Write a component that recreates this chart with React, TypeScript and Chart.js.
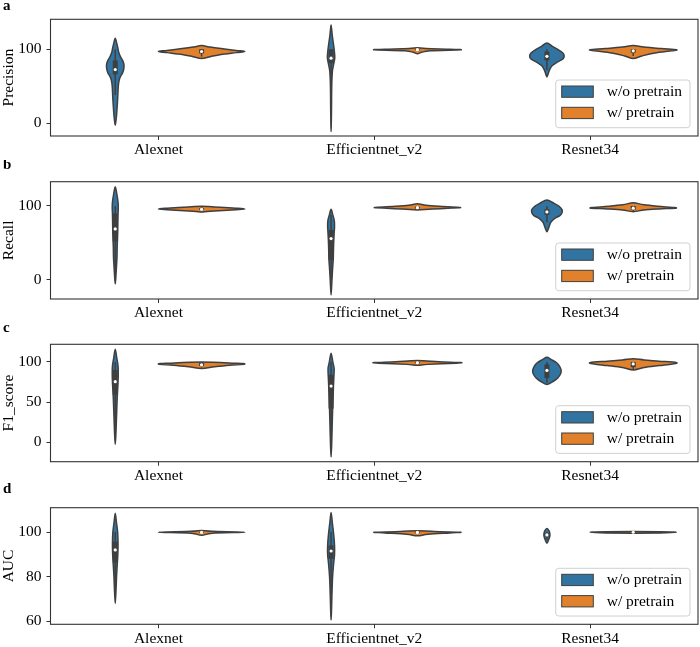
import React, { useEffect, useRef } from 'react';
import { Chart, registerables } from 'chart.js';

Chart.register(...registerables);

const FONT = "'Liberation Serif', 'Times New Roman', serif";

const categories = ['Alexnet', 'Efficientnet_v2', 'Resnet34'];
const seriesLabels = ['w/o pretrain', 'w/ pretrain'];
const seriesColors = ['#3274a1', '#e1812c'];

// Violin profiles: [value, relative density (1 = full half width)], one per category
// Box stats: [whiskerLow, q1, median, q3, whiskerHigh], one per category

// ---- Precision ----
const precisionTicks = [0, 100];
const precisionRange = [-17.6, 140.7];
const precisionWoViolins = [
  [[-3, 0], [5, 0.02], [14, 0.035], [32, 0.055], [50, 0.07], [58, 0.09], [63, 0.12], [68, 0.17], [74, 0.2], [80, 0.2], [85, 0.17], [90, 0.12], [96, 0.08], [102, 0.06], [108, 0.035], [115, 0]],
  [[-11.7, 0], [0, 0.005], [20, 0.01], [50, 0.015], [70, 0.03], [80, 0.06], [88, 0.085], [95, 0.08], [105, 0.06], [120, 0.025], [133, 0]],
  [[62.6, 0], [66, 0.025], [72, 0.06], [78, 0.125], [83, 0.25], [87, 0.37], [91, 0.4], [95, 0.37], [100, 0.25], [104, 0.125], [108.5, 0]],
];
const precisionWViolins = [
  [[87.4, 0], [90, 0.2], [93, 0.45], [95.5, 0.8], [97, 1.0], [98.5, 0.8], [101, 0.45], [103, 0.2], [105, 0]],
  [[94, 0], [96, 0.1], [98, 0.3], [99.3, 1.0], [100, 0.75], [101, 0.2], [102, 0]],
  [[87.5, 0], [91, 0.2], [95, 0.5], [98, 0.9], [99.5, 1.0], [101, 0.65], [103, 0.25], [105, 0]],
];
const precisionWoBox = [[38, 66, 72.5, 85, 100], [52, 81, 88, 100, 100], [72, 85, 90.5, 97, 100]];
const precisionWBox = [[90, 94.5, 97, 100, 100], [97.5, 98.8, 99.5, 100, 100], [91, 95.5, 98, 100, 100]];

// ---- Recall ----
const recallTicks = [0, 100];
const recallRange = [-25.7, 132.8];
const recallWoViolins = [
  [[-5.4, 0], [5, 0.015], [15, 0.025], [30, 0.04], [45, 0.045], [60, 0.055], [75, 0.06], [90, 0.065], [97, 0.07], [105, 0.065], [115, 0.04], [126, 0]],
  [[-20.3, 0], [0, 0.02], [15, 0.035], [28, 0.05], [40, 0.055], [50, 0.06], [62, 0.07], [72, 0.08], [80, 0.075], [88, 0.04], [95.5, 0]],
  [[65.3, 0], [72, 0.05], [78, 0.09], [83, 0.175], [87, 0.3], [91, 0.35], [95, 0.35], [100, 0.275], [104, 0.15], [108, 0]],
];
const recallWViolins = [
  [[91.7, 0], [93, 0.2], [95, 0.8], [96, 1.0], [97, 0.8], [98.5, 0.3], [99.7, 0]],
  [[94.5, 0], [96, 0.35], [97.7, 1.0], [99.5, 0.5], [101, 0.2], [103, 0]],
  [[92.3, 0], [94.5, 0.25], [96, 0.6], [97.3, 1.0], [99, 0.7], [101.5, 0.25], [104.5, 0]],
];
const recallWoBox = [[5, 52, 69, 90, 100], [0, 27, 56, 67.6, 88], [78, 88, 92, 95.6, 100]];
const recallWBox = [[92.5, 94.5, 95.5, 97, 98.5], [95, 96.5, 97.7, 99, 100], [93, 95, 97, 100, 100]];

// ---- F1_score ----
const f1Ticks = [0, 50, 100];
const f1Range = [-24.2, 122];
const f1WoViolins = [
  [[-2.5, 0], [10, 0.015], [25, 0.025], [40, 0.035], [55, 0.045], [65, 0.055], [75, 0.065], [85, 0.07], [95, 0.065], [105, 0.035], [115.8, 0]],
  [[-18.3, 0], [0, 0.015], [20, 0.025], [40, 0.035], [55, 0.045], [70, 0.055], [82, 0.065], [92, 0.07], [100, 0.04], [110.9, 0]],
  [[72, 0], [76, 0.15], [80, 0.25], [85, 0.315], [89, 0.33], [94, 0.3], [99, 0.225], [103, 0.1], [105.8, 0]],
];
const f1WViolins = [
  [[92, 0], [94, 0.3], [96, 0.65], [97.5, 1.0], [98.5, 0.75], [100, 0]],
  [[95.8, 0], [97, 0.25], [98.5, 0.9], [99.2, 1.0], [100.3, 0.5], [101.9, 0]],
  [[90, 0], [93, 0.25], [95.5, 0.6], [97.5, 0.9], [99.2, 1.0], [101, 0.6], [102.5, 0.25], [104, 0]],
];
const f1WoBox = [[13, 59, 75.5, 90, 100], [0, 42, 70, 84, 100], [74, 80, 89.5, 97, 100]];
const f1WBox = [[93, 95, 96.5, 99, 99.5], [97.5, 98.5, 99, 100, 100], [91, 93.5, 97.5, 100, 100]];

// ---- AUC ----
const aucTicks = [60, 80, 100];
const aucRange = [58.65, 110.9];
const aucWoViolins = [
  [[68, 0], [75, 0.02], [80, 0.03], [85, 0.045], [90, 0.06], [95, 0.065], [100, 0.055], [104, 0.03], [108.4, 0]],
  [[60.6, 0], [65, 0.01], [72, 0.02], [80, 0.035], [86, 0.06], [90, 0.08], [94, 0.08], [99, 0.06], [104, 0.03], [108.8, 0]],
  [[95, 0], [96.5, 0.04], [98, 0.065], [99, 0.07], [100.5, 0.05], [101.6, 0]],
];
const aucWViolins = [
  [[98.5, 0], [99.5, 0.25], [99.9, 1.0], [100.3, 0.25], [100.7, 0]],
  [[98.3, 0], [99, 0.25], [99.6, 0.75], [99.9, 1.0], [100.2, 0.4], [100.6, 0]],
  [[99.5, 0], [99.9, 1.0], [100.2, 0]],
];
const aucWoBox = [[72, 86.3, 92, 95.7, 100], [72, 88, 91.5, 94, 100], [96.5, 98, 98.7, 99.5, 100]];
const aucWBox = [[99.2, 99.6, 99.8, 100, 100], [99.2, 99.5, 99.8, 100, 100], [99.7, 99.8, 99.9, 100, 100]];

type Panel = {
  letter: string;
  letterY: number;
  title: string;
  ticks: number[];
  range: number[];
  violins: number[][][][];
  boxes: number[][][];
  height: number;
  areaTop: number;
  areaBottom: number;
};

const panels: Panel[] = [
  { letter: 'a', letterY: 9.5, title: 'Precision', ticks: precisionTicks, range: precisionRange, violins: [precisionWoViolins, precisionWViolins], boxes: [precisionWoBox, precisionWBox], height: 160, areaTop: 19.3, areaBottom: 136 },
  { letter: 'b', letterY: 8.6, title: 'Recall', ticks: recallTicks, range: recallRange, violins: [recallWoViolins, recallWViolins], boxes: [recallWoBox, recallWBox], height: 160, areaTop: 21.7, areaBottom: 139 },
  { letter: 'c', letterY: 11.7, title: 'F1_score', ticks: f1Ticks, range: f1Range, violins: [f1WoViolins, f1WViolins], boxes: [f1WoBox, f1WBox], height: 163, areaTop: 24.3, areaBottom: 141.7 },
  { letter: 'd', letterY: 10.3, title: 'AUC', ticks: aucTicks, range: aucRange, violins: [aucWoViolins, aucWViolins], boxes: [aucWoBox, aucWBox], height: 164, areaTop: 24.7, areaBottom: 141.3 },
];

const HALF = 0.2; // half width of a violin in category units
const DODGE = 0.2;
const EDGE = '#3f3f3f';

function drawViolin(ctx: CanvasRenderingContext2D, xs: any, ys: any, center: number, profile: number[][], fill: string) {
  const pts: number[][] = [];
  for (let i = 0; i < profile.length; i++) {
    const [v, d] = profile[i];
    pts.push([xs.getPixelForValue(center + d * HALF), ys.getPixelForValue(v)]);
  }
  for (let i = profile.length - 2; i >= 1; i--) {
    const [v, d] = profile[i];
    pts.push([xs.getPixelForValue(center - d * HALF), ys.getPixelForValue(v)]);
  }
  const m = pts.length;
  ctx.beginPath();
  ctx.moveTo(pts[0][0], pts[0][1]);
  for (let k = 0; k < m; k++) {
    const p0 = pts[(k - 1 + m) % m];
    const p1 = pts[k];
    const p2 = pts[(k + 1) % m];
    const p3 = pts[(k + 2) % m];
    const c1x = p1[0] + (p2[0] - p0[0]) / 6;
    const c1y = p1[1] + (p2[1] - p0[1]) / 6;
    const c2x = p2[0] - (p3[0] - p1[0]) / 6;
    const c2y = p2[1] - (p3[1] - p1[1]) / 6;
    ctx.bezierCurveTo(c1x, c1y, c2x, c2y, p2[0], p2[1]);
  }
  ctx.closePath();
  ctx.fillStyle = fill;
  ctx.fill();
  ctx.lineWidth = 1.5;
  ctx.strokeStyle = EDGE;
  ctx.lineJoin = 'round';
  ctx.stroke();
}

function drawBox(ctx: CanvasRenderingContext2D, xs: any, ys: any, center: number, box: number[]) {
  const [lo, q1, med, q3, hi] = box;
  const cx = xs.getPixelForValue(center);
  ctx.strokeStyle = EDGE;
  ctx.lineCap = 'butt';
  ctx.lineWidth = 1.5;
  ctx.beginPath();
  ctx.moveTo(cx, ys.getPixelForValue(lo));
  ctx.lineTo(cx, ys.getPixelForValue(hi));
  ctx.stroke();
  ctx.lineWidth = 5;
  ctx.beginPath();
  ctx.moveTo(cx, ys.getPixelForValue(q1));
  ctx.lineTo(cx, ys.getPixelForValue(q3));
  ctx.stroke();
  ctx.beginPath();
  ctx.arc(cx, ys.getPixelForValue(med), 1.6, 0, Math.PI * 2);
  ctx.fillStyle = '#ffffff';
  ctx.fill();
}

function makePlugin(panel: Panel) {
  return {
    id: 'violinPanel',
    afterDatasetsDraw(chart: any) {
      const ctx: CanvasRenderingContext2D = chart.ctx;
      const xs = chart.scales.x;
      const ys = chart.scales.y;
      ctx.save();
      for (let ci = 0; ci < categories.length; ci++) {
        for (let si = 0; si < seriesLabels.length; si++) {
          const center = ci + (si === 0 ? -DODGE : DODGE);
          drawViolin(ctx, xs, ys, center, panel.violins[si][ci], seriesColors[si]);
          drawBox(ctx, xs, ys, center, panel.boxes[si][ci]);
        }
      }
      ctx.restore();
    },
    afterDraw(chart: any) {
      const ctx: CanvasRenderingContext2D = chart.ctx;
      const a = chart.chartArea;
      ctx.save();
      // frame
      ctx.strokeStyle = '#333333';
      ctx.lineWidth = 1.1;
      ctx.strokeRect(a.left, a.top, a.right - a.left, a.bottom - a.top);
      // legend
      const lw = 134.3;
      const lh = 47.7;
      const lx = a.right - 8 - lw;
      const ly = a.bottom - 8.3 - lh;
      ctx.beginPath();
      ctx.roundRect(lx, ly, lw, lh, 3);
      ctx.fillStyle = 'rgba(255,255,255,0.8)';
      ctx.fill();
      ctx.strokeStyle = '#d0d0d0';
      ctx.lineWidth = 1;
      ctx.stroke();
      ctx.font = `15.5px ${FONT}`;
      ctx.textBaseline = 'middle';
      ctx.textAlign = 'left';
      chart.data.datasets.forEach((ds: any, i: number) => {
        const py = ly + 6 + i * 21.3;
        ctx.fillStyle = ds.backgroundColor;
        ctx.fillRect(lx + 6, py, 31.6, 11.3);
        ctx.strokeStyle = EDGE;
        ctx.lineWidth = 1;
        ctx.strokeRect(lx + 6, py, 31.6, 11.3);
        ctx.fillStyle = '#000000';
        ctx.fillText(ds.label, lx + 51, py + 6);
      });
      // panel letter
      ctx.font = `bold 15px ${FONT}`;
      ctx.textBaseline = 'alphabetic';
      ctx.fillStyle = '#000000';
      ctx.fillText(panel.letter, 3, panel.letterY);
      ctx.restore();
    },
  };
}

function PanelChart({ panel }: { panel: Panel }) {
  const ref = useRef<HTMLCanvasElement | null>(null);
  useEffect(() => {
    if (!ref.current) return;
    const chart = new Chart(ref.current, {
      type: 'line',
      data: {
        labels: categories,
        datasets: seriesLabels.map((label, si) => ({
          label,
          data: panel.boxes[si].map((b) => b[2]),
          backgroundColor: seriesColors[si],
          borderColor: seriesColors[si],
          showLine: false,
          pointRadius: 0,
          pointHoverRadius: 0,
        })),
      },
      options: {
        responsive: false,
        animation: false,
        devicePixelRatio: 1,
        events: [],
        layout: { padding: { top: panel.areaTop, right: 2, left: 0, bottom: 0 } },
        plugins: { legend: { display: false }, tooltip: { enabled: false } },
        scales: {
          x: {
            type: 'category',
            offset: true,
            grid: { display: true, offset: false, drawOnChartArea: false, drawTicks: true, tickLength: 4, color: '#333333', lineWidth: 1 },
            border: { display: false },
            ticks: { font: { family: FONT, size: 15.5 }, color: '#000000', padding: 1, maxRotation: 0, autoSkip: false },
            afterFit: (s: any) => { s.height = panel.height - panel.areaBottom; },
          },
          y: {
            type: 'linear',
            min: panel.range[0],
            max: panel.range[1],
            grid: { display: true, drawOnChartArea: false, drawTicks: true, tickLength: 4, color: '#333333', lineWidth: 1 },
            border: { display: false },
            ticks: { font: { family: FONT, size: 15.5 }, color: '#000000', padding: 5 },
            afterBuildTicks: (s: any) => { s.ticks = panel.ticks.map((v) => ({ value: v })); },
            afterFit: (s: any) => { s.width = 50.5; },
            title: { display: true, text: panel.title, font: { family: FONT, size: 15.5, lineHeight: 1.1 }, color: '#000000', padding: 0 },
          },
        },
      } as any,
      plugins: [makePlugin(panel)],
    });
    return () => chart.destroy();
  }, [panel]);
  return <canvas ref={ref} width={700} height={panel.height} style={{ display: 'block', width: 700, height: panel.height }} />;
}

export default function App() {
  return (
    <div style={{ position: 'absolute', left: 0, top: 0, width: 700, height: 647, background: '#ffffff' }}>
      {panels.map((p) => (
        <PanelChart key={p.letter} panel={p} />
      ))}
    </div>
  );
}
